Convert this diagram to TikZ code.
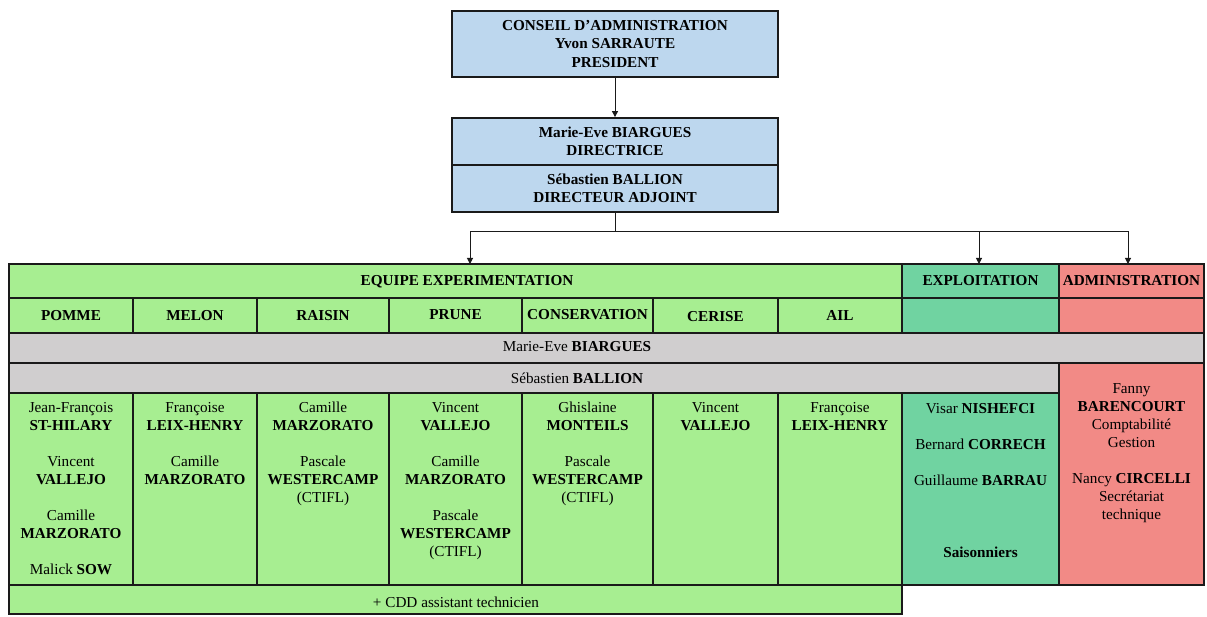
\documentclass[tikz,border=0pt]{standalone}
\usepackage{fontspec}
\setmainfont{Liberation Serif}
\usetikzlibrary{arrows.meta,fit}
\definecolor{lgreen}{HTML}{A7EE91}
\definecolor{tgreen}{HTML}{70D3A1}
\definecolor{salmon}{HTML}{F28A86}
\definecolor{lgray}{HTML}{D0CECF}
\definecolor{lblue}{HTML}{BDD7EE}
\definecolor{bord}{HTML}{1A1A1A}
\newcommand\cellbox[6]{\node[cellst,fill=#2,fit={(#3,#4)(#5,#6)}] (#1) {};}
\begin{document}
\begin{tikzpicture}[x=1pt,y=-1pt,
 cellst/.style={draw=bord,line width=1.6pt,inner sep=0pt},
 txt/.style={inner sep=0pt,align=center,font=\fontsize{15.2}{18}\selectfont,text=black},
 hd/.style={txt,font=\fontsize{15.2}{18}\selectfont\bfseries},
 topbox/.style={draw=bord,line width=1.8pt,fill=lblue,inner sep=0pt,minimum width=326pt,align=center,font=\fontsize{15.2}{18.5}\selectfont\bfseries},
 conn/.style={draw=bord,line width=1pt},
 arr/.style={conn,-{Triangle[length=6pt,width=6pt]}}]
\useasboundingbox (0,0) rectangle (1207,617);
\fill[white] (0,0) rectangle (1207,617);
% top boxes
\node[topbox,minimum height=66pt] (pres) at (615,44) {CONSEIL D’ADMINISTRATION\\Yvon SARRAUTE\\PRESIDENT};
\node[topbox,minimum height=47pt] (dir) at (615,141.5) {Marie-Eve BIARGUES\\DIRECTRICE};
\node[topbox,minimum height=47pt] (adj) at (615,188.5) {Sébastien BALLION\\DIRECTEUR ADJOINT};
% header row
\cellbox{eqh}{lgreen}{9}{264}{902}{298}
\cellbox{exh}{tgreen}{902}{264}{1059}{298}
\cellbox{adh}{salmon}{1059}{264}{1204}{298}
% category row
\cellbox{pomme}{lgreen}{9}{298}{133}{333}
\cellbox{melon}{lgreen}{133}{298}{257}{333}
\cellbox{raisin}{lgreen}{257}{298}{389}{333}
\cellbox{prune}{lgreen}{389}{298}{522}{333}
\cellbox{cons}{lgreen}{522}{298}{653}{333}
\cellbox{cerise}{lgreen}{653}{298}{778}{333}
\cellbox{ail}{lgreen}{778}{298}{902}{333}
\cellbox{exc}{tgreen}{902}{298}{1059}{333}
\cellbox{adc}{salmon}{1059}{298}{1204}{333}
% gray rows
\cellbox{gone}{lgray}{9}{333}{1204}{363}
\cellbox{gtwo}{lgray}{9}{363}{1059}{393}
\cellbox{adn}{salmon}{1059}{363}{1204}{585}
% names
\cellbox{npomme}{lgreen}{9}{393}{133}{585}
\cellbox{nmelon}{lgreen}{133}{393}{257}{585}
\cellbox{nraisin}{lgreen}{257}{393}{389}{585}
\cellbox{nprune}{lgreen}{389}{393}{522}{585}
\cellbox{ncons}{lgreen}{522}{393}{653}{585}
\cellbox{ncerise}{lgreen}{653}{393}{778}{585}
\cellbox{nail}{lgreen}{778}{393}{902}{585}
\cellbox{exn}{tgreen}{902}{393}{1059}{585}
\cellbox{cdd}{lgreen}{9}{585}{902}{614}
% texts
\node[hd,anchor=base] (teq) at (467,286) {EQUIPE EXPERIMENTATION};
\node[hd,anchor=base] (tex) at (980.5,286) {EXPLOITATION};
\node[hd,anchor=base] (tad) at (1131.5,286) {ADMINISTRATION};
\node[hd,anchor=base] (tpomme) at (71,321) {POMME};
\node[hd,anchor=base] (tmelon) at (195,321) {MELON};
\node[hd,anchor=base] (traisin) at (323,321) {RAISIN};
\node[hd,anchor=base] (tprune) at (455.5,320) {PRUNE};
\node[hd,anchor=base] (tcons) at (587.5,320) {CONSERVATION};
\node[hd,anchor=base] (tcerise) at (715.5,322) {CERISE};
\node[hd,anchor=base] (tail) at (840,321) {AIL};
\node[txt,anchor=base] (tgone) at (577,352) {Marie-Eve \textbf{BIARGUES}};
\node[txt,anchor=base] (tgtwo) at (577,383) {Sébastien \textbf{BALLION}};
\node[txt,anchor=base] (tcdd) at (456,607) {+ CDD assistant technicien};
\node[txt,anchor=north] (lpomme) at (71,402) {Jean-François\\\textbf{ST-HILARY}\\[18pt]Vincent\\\textbf{VALLEJO}\\[18pt]Camille\\\textbf{MARZORATO}\\[18pt]Malick \textbf{SOW}};
\node[txt,anchor=north] (lmelon) at (195,402) {Françoise\\\textbf{LEIX-HENRY}\\[18pt]Camille\\\textbf{MARZORATO}};
\node[txt,anchor=north] (lraisin) at (323,402) {Camille\\\textbf{MARZORATO}\\[18pt]Pascale\\\textbf{WESTERCAMP}\\(CTIFL)};
\node[txt,anchor=north] (lprune) at (455.5,402) {Vincent\\\textbf{VALLEJO}\\[18pt]Camille\\\textbf{MARZORATO}\\[18pt]Pascale\\\textbf{WESTERCAMP}\\(CTIFL)};
\node[txt,anchor=north] (lcons) at (587.5,402) {Ghislaine\\\textbf{MONTEILS}\\[18pt]Pascale\\\textbf{WESTERCAMP}\\(CTIFL)};
\node[txt,anchor=north] (lcerise) at (715.5,402) {Vincent\\\textbf{VALLEJO}};
\node[txt,anchor=north] (lail) at (840,402) {Françoise\\\textbf{LEIX-HENRY}};
\node[txt,anchor=north] (lex) at (980.5,403) {Visar \textbf{NISHEFCI}\\[18pt]Bernard \textbf{CORRECH}\\[18pt]Guillaume \textbf{BARRAU}\\[54pt]\textbf{Saisonniers}};
\node[txt,anchor=north] (lad) at (1131.5,383) {Fanny\\\textbf{BARENCOURT}\\Comptabilité\\Gestion\\[18pt]Nancy \textbf{CIRCELLI}\\Secrétariat\\technique};
% connectors
\coordinate (j) at (615,232);
\coordinate (eqin) at (470,264);
\coordinate (exin) at (979,264);
\coordinate (adin) at (1128,264);
\draw[arr] (pres.south) -- (dir.north);
\draw[conn] (adj.south) -- (j);
\draw[arr] (j) -| (eqin);
\draw[arr] (j) -| (exin);
\draw[arr] (j) -| (adin);
\end{tikzpicture}
\end{document}
